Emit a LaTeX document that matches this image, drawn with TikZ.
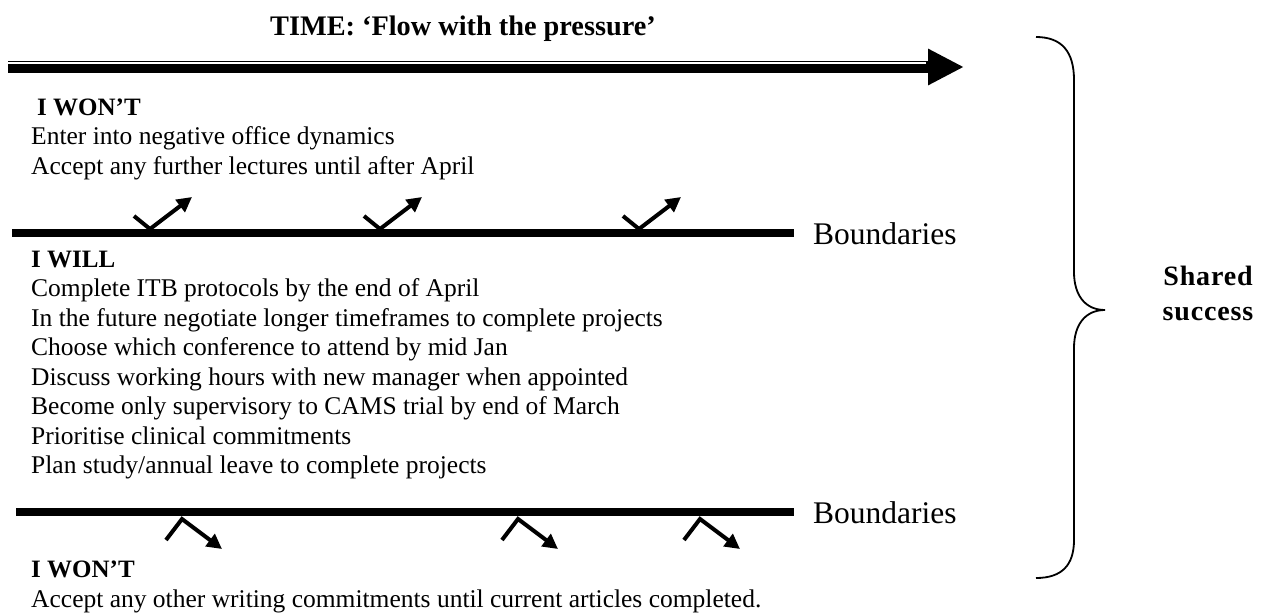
\documentclass[tikz,border=0pt]{standalone}
\usepackage{fontspec}
\setmainfont{Liberation Serif}
\usetikzlibrary{arrows.meta}
\begin{document}
\begin{tikzpicture}[x=1pt,y=-1pt,
  body/.style={anchor=base west, inner sep=0pt, font=\fontsize{25.5}{29}\selectfont},
  head/.style={anchor=base west, inner sep=0pt, font=\fontsize{25}{29}\selectfont\bfseries},
  bound/.style={line width=8pt},
  blabel/.style={anchor=west, inner sep=0pt, font=\fontsize{31.5}{36}\selectfont},
  bouncetip/.style={line width=4pt, line join=miter, -{Triangle[length=15pt,width=15pt]}},
]
\useasboundingbox (0,0) rectangle (1269,615);
% title and time arrow
\node[font=\fontsize{28.3}{34}\selectfont\bfseries, inner sep=0pt] (title) at (463,29) {TIME: ‘Flow with the pressure’};
\coordinate (ts) at (8,67);
\coordinate (te) at (964,67);
\coordinate (ws) at (8,63);
\coordinate (we) at (926,63);
\draw[line width=12pt, -{Triangle[length=36pt,width=34pt]}] (ts) -- (te);
\draw[white, line width=1.2pt] (ws) -- (we);
% top block
\node[head] (won1) at (37,116) {I WON’T};
\node[body] (won1a) at (31,145) {Enter into negative office dynamics};
\node[body] (won1b) at (31,175) {Accept any further lectures until after April};
% boundary 1
\coordinate (l1s) at (12,233);
\coordinate (l1e) at (794,233);
\draw[bound] (l1s) -- (l1e);
\node[blabel] (bl1) at (813,234) {Boundaries};
\foreach \x [count=\i] in {150,380,639} {
  \coordinate (cl\i) at (\x-16,216);
  \coordinate (cv\i) at (\x,229);
  \coordinate (ct\i) at (\x+42,197);
  \draw[bouncetip] (cl\i) -- (cv\i) -- (ct\i);
}
% I WILL block
\node[head] (will) at (31,267) {I WILL};
\node[body] (w1) at (31,296.5) {Complete ITB protocols by the end of April};
\node[body] (w2) at (31,326) {In the future negotiate longer timeframes to complete projects};
\node[body] (w3) at (31,355.5) {Choose which conference to attend by mid Jan};
\node[body] (w4) at (31,385) {Discuss working hours with new manager when appointed};
\node[body] (w5) at (31,414.5) {Become only supervisory to CAMS trial by end of March};
\node[body] (w6) at (31,444) {Prioritise clinical commitments};
\node[body] (w7) at (31,473.5) {Plan study/annual leave to complete projects};
% boundary 2
\coordinate (l2s) at (16,512);
\coordinate (l2e) at (794,512);
\draw[bound] (l2s) -- (l2e);
\node[blabel] (bl2) at (813,513) {Boundaries};
\foreach \x [count=\i] in {182,518,700} {
  \coordinate (dl\i) at (\x-16,540);
  \coordinate (dv\i) at (\x,519);
  \coordinate (dt\i) at (\x+40,549);
  \draw[bouncetip] (dl\i) -- (dv\i) -- (dt\i);
}
% bottom block
\node[head] (won2) at (31,577) {I WON’T};
\node[body] (won2a) at (31,607) {Accept any other writing commitments until current articles completed.};
% brace
\coordinate (bt) at (1036,37);
\coordinate (bp) at (1105,310);
\coordinate (bb) at (1036,578);
\draw[line width=1.8pt] (bt) .. controls (1062,37) and (1074,52) .. (1074,80) -- (1074,272) .. controls (1074,295) and (1085,310) .. (bp) .. controls (1085,310) and (1074,325) .. (1074,348) -- (1074,540) .. controls (1074,565) and (1062,578) .. (bb);
\node[font=\fontsize{28}{35}\selectfont\bfseries\addfontfeature{LetterSpace=3}, align=center, inner sep=0pt] (ss) at (1208,293) {Shared\\success};
\end{tikzpicture}
\end{document}
